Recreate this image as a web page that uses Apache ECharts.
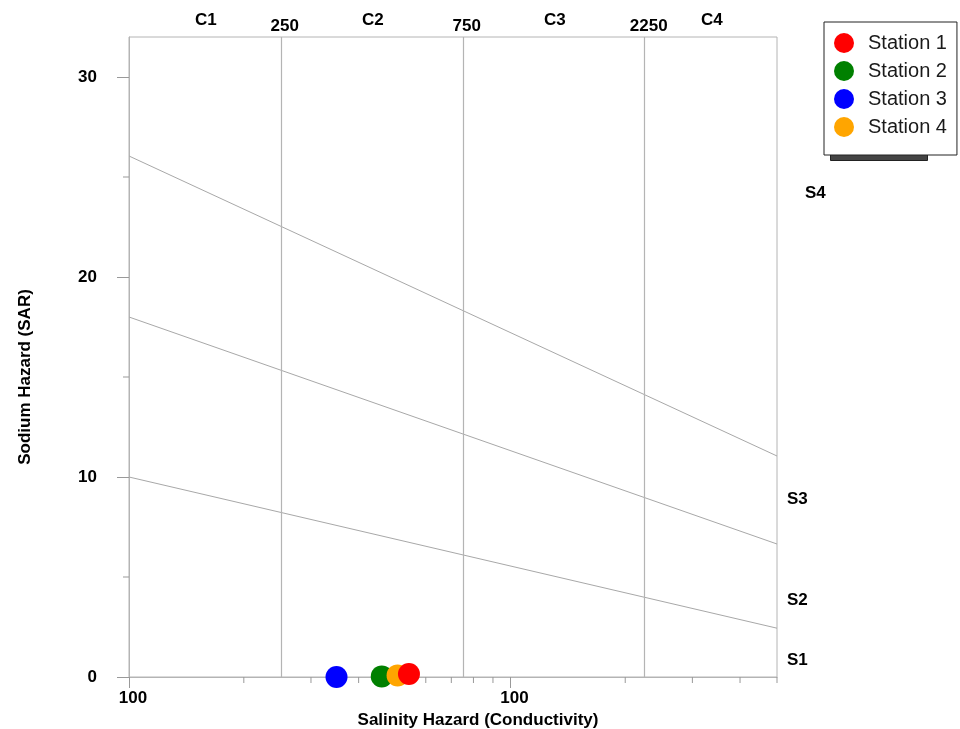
<!DOCTYPE html>
<html>
<head>
<meta charset="utf-8">
<script src="https://cdn.jsdelivr.net/npm/echarts@6/dist/echarts.min.js"></script>
<style>
  html, body { margin: 0; padding: 0; background: #fff; }
  #chart { width: 960px; height: 729px; }
</style>
</head>
<body>
<div id="chart"></div>
<script>
// station samples
var stations = ['Station 1', 'Station 2', 'Station 3', 'Station 4'];
var conductivity = [542, 460, 350, 506];
var sar = [0.15, 0.03, 0.0, 0.08];

// salinity class boundaries (conductivity) and labels
var salinityBounds = [250, 750, 2250];
var salinityClasses = ['C1', 'C2', 'C3', 'C4'];

// sodium hazard boundary lines: SAR at conductivity 100 and 5000
var s12Line = [[100, 10], [5000, 2.44]];
var s23Line = [[100, 18], [5000, 6.65]];
var s34Line = [[100, 26.05], [5000, 11.05]];
var sodiumClasses = ['S1', 'S2', 'S3', 'S4'];
var sodiumLabelSar = [0.9, 3.9, 8.95, 24.2];

// axis ticks
var xMin = 100, xMax = 5000;
var yMin = 0, yMax = 32;
var xMajorTicks = [100, 1000];
var xMajorTickLabels = ['100', '100'];
var xMinorTicks = [200, 300, 400, 500, 600, 700, 800, 900, 2000, 3000, 4000, 5000];
var yMajorTicks = [0, 10, 20, 30];
var yMinorTicks = [5, 15, 25];

var colors = ['#ff0000', '#008000', '#0000ff', '#ffa500'];
var zOrder = [6, 4, 3, 5];
var FONT = '"Liberation Sans", Arial, sans-serif';
var GREY = '#b4b4b4';

var dom = document.getElementById('chart');
var myChart = echarts.init(dom, null, { renderer: 'canvas' });

// class label positions: geometric centre of each conductivity band
var edges = [xMin].concat(salinityBounds).concat([xMax]);
var classLabelData = salinityClasses.map(function (c, i) {
  return { name: c, value: [Math.sqrt(edges[i] * edges[i + 1]), yMax] };
});
var boundLabelData = salinityBounds.map(function (b) {
  return { name: String(b), value: [b, yMax] };
});
var sodiumLabelData = sodiumClasses.map(function (s, i) {
  var item = { name: s, value: [xMax, sodiumLabelSar[i]] };
  if (s === 'S4') item.label = { offset: [18, 0] };
  return item;
});

function boundaryLine(data) {
  return {
    type: 'line',
    data: data,
    symbol: 'none',
    silent: true,
    z: 1,
    lineStyle: { color: '#a8a8a8', width: 1 }
  };
}

function textSeries(data, label) {
  return {
    type: 'scatter',
    data: data,
    symbolSize: 0,
    silent: true,
    itemStyle: { opacity: 1 },
    label: Object.assign({
      show: true, formatter: '{b}',
      color: '#000', fontFamily: FONT, fontWeight: 'bold', fontSize: 17
    }, label)
  };
}

var series = [];
series.push(boundaryLine(s12Line));
series.push(boundaryLine(s23Line));
series.push(boundaryLine(s34Line));

// vertical class boundaries
series.push({
  type: 'line',
  data: [],
  silent: true,
  markLine: {
    silent: true,
    symbol: 'none',
    label: { show: false },
    lineStyle: { color: GREY, type: 'solid', width: 1.2 },
    data: salinityBounds.map(function (b) { return { xAxis: b }; })
  }
});

// minor ticks
series.push({
  type: 'custom',
  silent: true,
  clip: false,
  data: xMinorTicks.map(function (v) { return [v, yMin]; }),
  renderItem: function (params, api) {
    var p = api.coord([api.value(0), api.value(1)]);
    return { type: 'line', shape: { x1: p[0], y1: p[1], x2: p[0], y2: p[1] + 6 }, style: { stroke: '#999', lineWidth: 1 } };
  }
});
series.push({
  type: 'custom',
  silent: true,
  clip: false,
  data: yMinorTicks.map(function (v) { return [xMin, v]; }),
  renderItem: function (params, api) {
    var p = api.coord([api.value(0), api.value(1)]);
    return { type: 'line', shape: { x1: p[0] - 6, y1: p[1], x2: p[0], y2: p[1] }, style: { stroke: '#999', lineWidth: 1 } };
  }
});

// text annotations
series.push(textSeries(classLabelData, { position: 'top', distance: 8, offset: [1, 0] }));
series.push(textSeries(boundLabelData, { position: 'top', distance: 2, offset: [4, 0] }));
series.push(textSeries(sodiumLabelData, { position: 'right', distance: 10, offset: [0, 1] }));

stations.forEach(function (name, i) {
  series.push({
    name: name,
    type: 'scatter',
    data: [[conductivity[i], sar[i]]],
    symbol: 'circle',
    symbolSize: 22,
    z: zOrder[i],
    itemStyle: { color: colors[i], opacity: 1 }
  });
});

var option = {
  animation: false,
  backgroundColor: '#fff',
  grid: {
    left: 129, right: 183, top: 37, bottom: 52,
    outerBoundsMode: 'none',
    containLabel: false,
    show: true, borderColor: GREY, borderWidth: 1
  },
  legend: {
    data: stations,
    orient: 'vertical',
    left: 824, top: 22,
    padding: [11, 10, 18, 10],
    itemWidth: 20, itemHeight: 20, itemGap: 8,
    icon: 'circle',
    backgroundColor: '#fff',
    borderColor: '#222', borderWidth: 1,
    textStyle: { fontFamily: FONT, fontSize: 20, color: '#1a1a1a', padding: [0, 0, 0, 9] }
  },
  graphic: [{
    type: 'rect',
    left: 830, top: 154,
    shape: { width: 97, height: 6 },
    style: { fill: '#444', stroke: '#222', lineWidth: 1 },
    z: -1
  }],
  xAxis: {
    type: 'log',
    logBase: 10,
    min: xMin, max: xMax,
    name: 'Salinity Hazard (Conductivity)',
    nameLocation: 'middle',
    nameGap: 30,
    nameTextStyle: { fontFamily: FONT, fontWeight: 'bold', fontSize: 17, color: '#000', padding: [0, 0, 0, 50] },
    axisLine: { show: true, lineStyle: { color: GREY, width: 1 } },
    axisTick: { show: true, length: 11, customValues: xMajorTicks, lineStyle: { color: '#999' } },
    axisLabel: {
      show: true, margin: 13, customValues: xMajorTicks,
      fontFamily: FONT, fontWeight: 'bold', fontSize: 17, color: '#000',
      padding: [0, 0, 0, 8],
      formatter: function (v) {
        var idx = xMajorTicks.indexOf(Math.round(v));
        return idx >= 0 ? xMajorTickLabels[idx] : '';
      }
    },
    splitLine: { show: false },
    minorTick: { show: false }
  },
  yAxis: {
    type: 'value',
    min: yMin, max: yMax, interval: 10,
    name: 'Sodium Hazard (SAR)',
    nameLocation: 'middle',
    nameGap: 95,
    nameRotate: 90,
    nameTextStyle: { fontFamily: FONT, fontWeight: 'bold', fontSize: 17, color: '#000', padding: [0, 40, 0, 0] },
    axisLine: { show: true, lineStyle: { color: GREY, width: 1 } },
    axisTick: { show: true, length: 12, customValues: yMajorTicks, lineStyle: { color: '#999' } },
    axisLabel: {
      show: true, margin: 32, customValues: yMajorTicks,
      fontFamily: FONT, fontWeight: 'bold', fontSize: 17, color: '#000'
    },
    splitLine: { show: false }
  },
  series: series
};

myChart.setOption(option);
window.addEventListener('resize', myChart.resize);
</script>
</body>
</html>
